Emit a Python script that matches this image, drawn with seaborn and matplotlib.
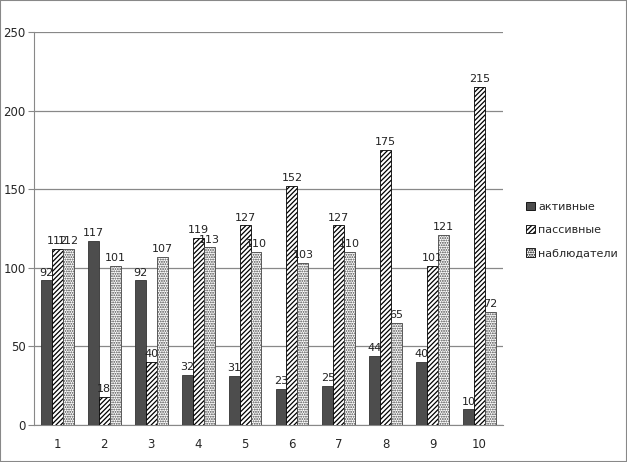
import matplotlib
matplotlib.use('Agg')
from matplotlib import pyplot as plt
from matplotlib.patches import Rectangle
import pandas as pd
import seaborn as sns
import numpy as np

# data
categories = ['1', '2', '3', '4', '5', '6', '7', '8', '9', '10']
series_names = ['активные', 'пассивные', 'наблюдатели']
active = [92, 117, 92, 32, 31, 23, 25, 44, 40, 10]
passive = [112, 18, 40, 119, 127, 152, 127, 175, 101, 215]
observers = [112, 101, 107, 113, 110, 103, 110, 65, 121, 72]
y_ticks = [0, 50, 100, 150, 200, 250]

df = pd.DataFrame({
    'cat': categories * 3,
    'series': np.repeat(series_names, len(categories)),
    'value': active + passive + observers,
})

sns.set_style('white')
plt.rcParams['font.family'] = ['DejaVu Sans']
plt.rcParams['hatch.linewidth'] = 0.9

fig = plt.figure(figsize=(6.27, 4.62), dpi=100)
ax = fig.add_axes([34 / 627, 1 - 425 / 462, (503 - 34) / 627, (425 - 32) / 462])

sns.barplot(data=df, x='cat', y='value', hue='series', order=categories,
            hue_order=series_names, width=0.7, gap=0, ax=ax, legend=False,
            palette=['#4d4d4d', 'white', 'white'], saturation=1, zorder=3)

styles = [('', '#333333'), ('///////', 'black'), ('.......', '#444444')]
for cont, (hatch, ec) in zip(ax.containers, styles):
    for bar in cont:
        bar.set_hatch(hatch)
        bar.set_edgecolor(ec)
        bar.set_linewidth(0.6)
    ax.bar_label(cont, padding=2, fontsize=8, color='#222222')

ax.set_ylim(0, 250)
ax.set_xlim(-0.5, 9.5)
ax.set_yticks(y_ticks)
ax.grid(axis='y', color='#888888', linewidth=0.9, zorder=0)
ax.set_xlabel('')
ax.set_ylabel('')
for side in ['top', 'right']:
    ax.spines[side].set_visible(False)
for side in ['left', 'bottom']:
    ax.spines[side].set_color('#888888')
ax.set_xticks(np.arange(-0.5, 10, 1), minor=True)
ax.tick_params(axis='x', which='major', length=0, pad=9, labelsize=8.5)
ax.tick_params(axis='x', which='minor', length=4, color='#888888', direction='out')
ax.tick_params(axis='y', length=4, color='#888888', direction='out', labelsize=8.5, pad=2, left=True)

handles = [Rectangle((0, 0), 1, 1, facecolor=fc, edgecolor='black', hatch=h, linewidth=0.6)
           for fc, h in zip(['#4d4d4d', 'white', 'white'], ['', '///////', '.......'])]
fig.legend(handles, series_names, loc='center left', bbox_to_anchor=(516 / 627, 1 - 230 / 462),
           frameon=False, fontsize=8, handlelength=0.8, handleheight=0.8,
           handletextpad=0.3, labelspacing=1.2)

# outer frame around the picture
fig.patches.append(Rectangle((0, 0), 1, 1, transform=fig.transFigure, fill=False,
                             edgecolor='#888888', linewidth=1.5))

fig.savefig('out.png', dpi=100)
